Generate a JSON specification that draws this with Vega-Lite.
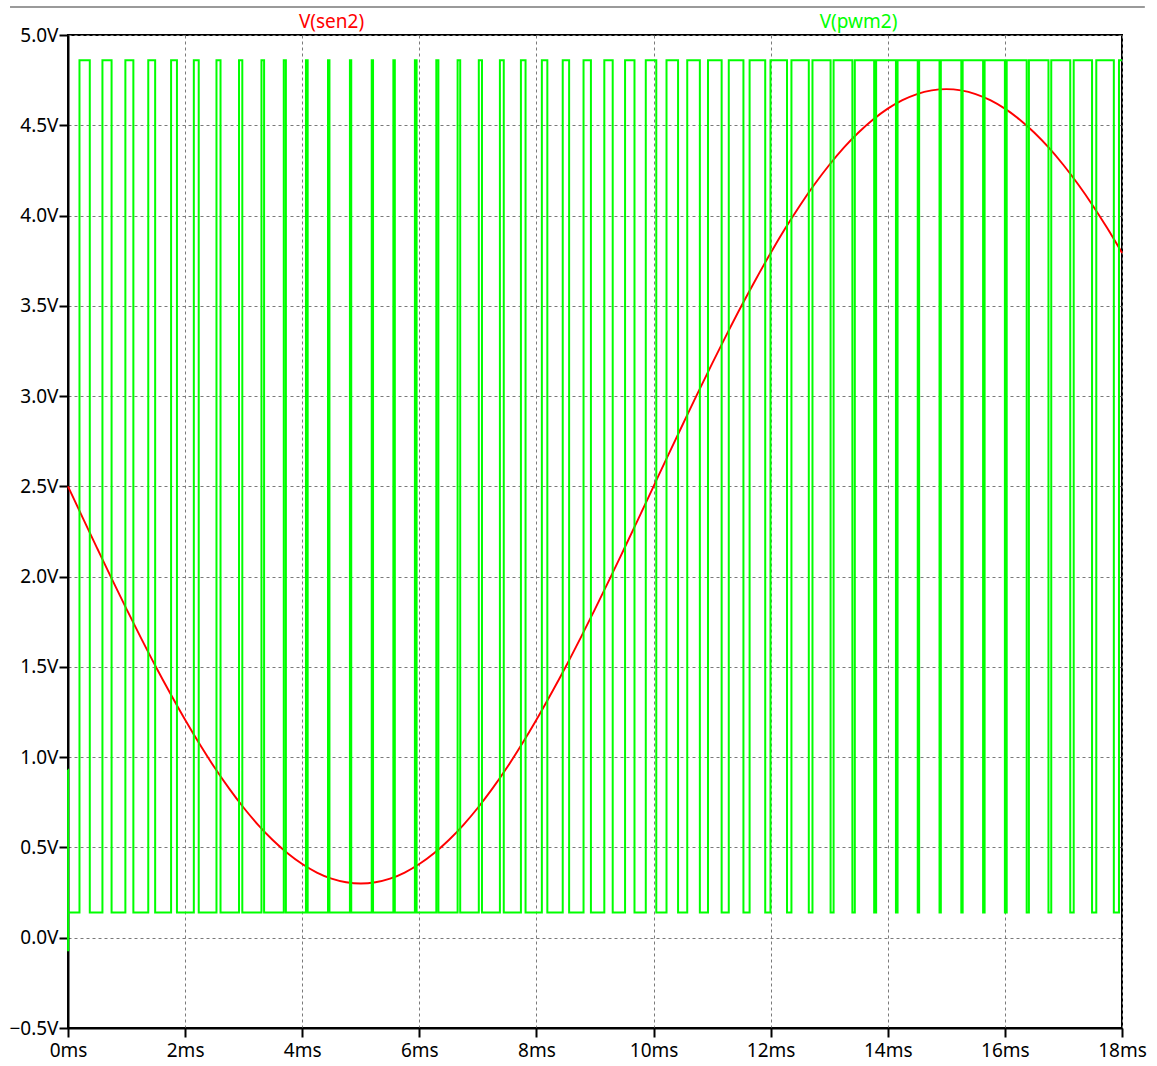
{
  "$schema": "https://vega.github.io/schema/vega-lite/v6.json",
  "width": 1054,
  "height": 993,
  "autosize": {"type": "none"},
  "padding": {"left": 68, "top": 35, "right": 35, "bottom": 38},
  "background": "white",
  "config": {
    "view": {"stroke": "black", "strokeWidth": 2},
    "axis": {
      "domainColor": "black",
      "domainWidth": 2,
      "tickColor": "black",
      "tickWidth": 2,
      "tickSize": 9,
      "labelColor": "black",
      "labelFont": "Noto Sans",
      "labelFontSize": 19,
      "labelPadding": 1,
      "labelFlush": false,
      "labelOverlap": false,
      "grid": true,
      "gridColor": "#7a7a7a",
      "gridDash": [3, 3],
      "gridWidth": 1,
      "title": null
    }
  },
  "datasets": {
    "sen2": [
      {"t": 0, "v": 2.5}, {"t": 0.25, "v": 2.327}, {"t": 0.5, "v": 2.156}, {"t": 0.75, "v": 1.986},
      {"t": 1.0, "v": 1.82}, {"t": 1.25, "v": 1.658}, {"t": 1.5, "v": 1.501}, {"t": 1.75, "v": 1.351},
      {"t": 2.0, "v": 1.207}, {"t": 2.25, "v": 1.071}, {"t": 2.5, "v": 0.944}, {"t": 2.75, "v": 0.827},
      {"t": 3.0, "v": 0.72}, {"t": 3.25, "v": 0.624}, {"t": 3.5, "v": 0.54}, {"t": 3.75, "v": 0.468},
      {"t": 4.0, "v": 0.408}, {"t": 4.25, "v": 0.361}, {"t": 4.5, "v": 0.327}, {"t": 4.75, "v": 0.307},
      {"t": 5.0, "v": 0.3}, {"t": 5.25, "v": 0.307}, {"t": 5.5, "v": 0.327}, {"t": 5.75, "v": 0.361},
      {"t": 6.0, "v": 0.408}, {"t": 6.25, "v": 0.468}, {"t": 6.5, "v": 0.54}, {"t": 6.75, "v": 0.624},
      {"t": 7.0, "v": 0.72}, {"t": 7.25, "v": 0.827}, {"t": 7.5, "v": 0.944}, {"t": 7.75, "v": 1.071},
      {"t": 8.0, "v": 1.207}, {"t": 8.25, "v": 1.351}, {"t": 8.5, "v": 1.501}, {"t": 8.75, "v": 1.658},
      {"t": 9.0, "v": 1.82}, {"t": 9.25, "v": 1.986}, {"t": 9.5, "v": 2.156}, {"t": 9.75, "v": 2.327},
      {"t": 10.0, "v": 2.5}, {"t": 10.25, "v": 2.673}, {"t": 10.5, "v": 2.844}, {"t": 10.75, "v": 3.014},
      {"t": 11.0, "v": 3.18}, {"t": 11.25, "v": 3.342}, {"t": 11.5, "v": 3.499}, {"t": 11.75, "v": 3.649},
      {"t": 12.0, "v": 3.793}, {"t": 12.25, "v": 3.929}, {"t": 12.5, "v": 4.056}, {"t": 12.75, "v": 4.173},
      {"t": 13.0, "v": 4.28}, {"t": 13.25, "v": 4.376}, {"t": 13.5, "v": 4.46}, {"t": 13.75, "v": 4.532},
      {"t": 14.0, "v": 4.592}, {"t": 14.25, "v": 4.639}, {"t": 14.5, "v": 4.673}, {"t": 14.75, "v": 4.693},
      {"t": 15.0, "v": 4.7}, {"t": 15.25, "v": 4.693}, {"t": 15.5, "v": 4.673}, {"t": 15.75, "v": 4.639},
      {"t": 16.0, "v": 4.592}, {"t": 16.25, "v": 4.532}, {"t": 16.5, "v": 4.46}, {"t": 16.75, "v": 4.376},
      {"t": 17.0, "v": 4.28}, {"t": 17.25, "v": 4.173}, {"t": 17.5, "v": 4.056}, {"t": 17.75, "v": 3.929},
      {"t": 18.0, "v": 3.793}
    ],
    "pwm2": [
      {"t": 0, "v": 0.93}, {"t": 0.002, "v": -0.07}, {"t": 0.004, "v": 0.14},
      {"t": 0.1961, "v": 4.86},
      {"t": 0.3721, "v": 0.14}, {"t": 0.5881, "v": 4.86},
      {"t": 0.7442, "v": 0.14}, {"t": 0.9798, "v": 4.86},
      {"t": 1.1163, "v": 0.14}, {"t": 1.3707, "v": 4.86},
      {"t": 1.4884, "v": 0.14}, {"t": 1.7605, "v": 4.86},
      {"t": 1.8605, "v": 0.14}, {"t": 2.1488, "v": 4.86},
      {"t": 2.2326, "v": 0.14}, {"t": 2.5357, "v": 4.86},
      {"t": 2.6047, "v": 0.14}, {"t": 2.9207, "v": 4.86},
      {"t": 2.9767, "v": 0.14}, {"t": 3.3039, "v": 4.86},
      {"t": 3.3488, "v": 0.14}, {"t": 3.6848, "v": 4.86},
      {"t": 3.7209, "v": 0.14}, {"t": 4.0637, "v": 4.86},
      {"t": 4.093, "v": 0.14}, {"t": 4.4403, "v": 4.86},
      {"t": 4.4651, "v": 0.14}, {"t": 4.8146, "v": 4.86},
      {"t": 4.8372, "v": 0.14}, {"t": 5.1867, "v": 4.86},
      {"t": 5.2093, "v": 0.14}, {"t": 5.5566, "v": 4.86},
      {"t": 5.5814, "v": 0.14}, {"t": 5.9243, "v": 4.86},
      {"t": 5.9535, "v": 0.14}, {"t": 6.29, "v": 4.86},
      {"t": 6.3256, "v": 0.14}, {"t": 6.6537, "v": 4.86},
      {"t": 6.6977, "v": 0.14}, {"t": 7.0157, "v": 4.86},
      {"t": 7.0698, "v": 0.14}, {"t": 7.376, "v": 4.86},
      {"t": 7.4419, "v": 0.14}, {"t": 7.7348, "v": 4.86},
      {"t": 7.814, "v": 0.14}, {"t": 8.0924, "v": 4.86},
      {"t": 8.186, "v": 0.14}, {"t": 8.4488, "v": 4.86},
      {"t": 8.5581, "v": 0.14}, {"t": 8.8043, "v": 4.86},
      {"t": 8.9302, "v": 0.14}, {"t": 9.159, "v": 4.86},
      {"t": 9.3023, "v": 0.14}, {"t": 9.5133, "v": 4.86},
      {"t": 9.6744, "v": 0.14}, {"t": 9.8673, "v": 4.86},
      {"t": 10.0465, "v": 0.14}, {"t": 10.2212, "v": 4.86},
      {"t": 10.4186, "v": 0.14}, {"t": 10.5752, "v": 4.86},
      {"t": 10.7907, "v": 0.14}, {"t": 10.9296, "v": 4.86},
      {"t": 11.1628, "v": 0.14}, {"t": 11.2845, "v": 4.86},
      {"t": 11.5349, "v": 0.14}, {"t": 11.6402, "v": 4.86},
      {"t": 11.907, "v": 0.14}, {"t": 11.9969, "v": 4.86},
      {"t": 12.2791, "v": 0.14}, {"t": 12.3547, "v": 4.86},
      {"t": 12.6512, "v": 0.14}, {"t": 12.7139, "v": 4.86},
      {"t": 13.0233, "v": 0.14}, {"t": 13.0747, "v": 4.86},
      {"t": 13.3953, "v": 0.14}, {"t": 13.437, "v": 4.86},
      {"t": 13.7674, "v": 0.14}, {"t": 13.8013, "v": 4.86},
      {"t": 14.1395, "v": 0.14}, {"t": 14.1674, "v": 4.86},
      {"t": 14.5116, "v": 0.14}, {"t": 14.5357, "v": 4.86},
      {"t": 14.8837, "v": 0.14}, {"t": 14.9061, "v": 4.86},
      {"t": 15.2558, "v": 0.14}, {"t": 15.2788, "v": 4.86},
      {"t": 15.6279, "v": 0.14}, {"t": 15.6537, "v": 4.86},
      {"t": 16.0, "v": 0.14}, {"t": 16.0309, "v": 4.86},
      {"t": 16.3721, "v": 0.14}, {"t": 16.4102, "v": 4.86},
      {"t": 16.7442, "v": 0.14}, {"t": 16.7918, "v": 4.86},
      {"t": 17.1163, "v": 0.14}, {"t": 17.1752, "v": 4.86},
      {"t": 17.4884, "v": 0.14}, {"t": 17.5609, "v": 4.86},
      {"t": 17.8605, "v": 0.14}, {"t": 17.9483, "v": 4.86},
      {"t": 18.0, "v": 4.86}
    ]
  },
  "layer": [
    {
      "data": {"name": "sen2"},
      "mark": {"type": "line", "color": "#ff0000", "strokeWidth": 1.9, "interpolate": "monotone"},
      "encoding": {
        "x": {
          "field": "t",
          "type": "quantitative",
          "scale": {"domain": [0, 18], "nice": false, "zero": false},
          "axis": {
            "values": [0, 2, 4, 6, 8, 10, 12, 14, 16, 18],
            "labelExpr": "datum.value + 'ms'",
            "labelPadding": 4
          }
        },
        "y": {
          "field": "v",
          "type": "quantitative",
          "scale": {"domain": [-0.5, 5.0], "nice": false, "zero": false},
          "axis": {
            "values": [-0.5, 0, 0.5, 1, 1.5, 2, 2.5, 3, 3.5, 4, 4.5, 5],
            "labelExpr": "format(datum.value, '.1f') + 'V'"
          }
        }
      }
    },
    {
      "data": {"name": "pwm2"},
      "mark": {"type": "line", "color": "#00ff00", "strokeWidth": 2, "interpolate": "step-after"},
      "encoding": {
        "x": {"field": "t", "type": "quantitative"},
        "y": {"field": "v", "type": "quantitative"}
      }
    },
    {
      "description": "window separator line above the trace labels",
      "data": {"values": [{}]},
      "mark": {"type": "rule", "color": "#9a9a9a", "strokeWidth": 2, "clip": false},
      "encoding": {
        "x": {"datum": -0.99, "type": "quantitative"},
        "x2": {"datum": 18.39},
        "y": {"datum": 5.155, "type": "quantitative"}
      }
    },
    {
      "data": {"values": [{}]},
      "mark": {"type": "text", "color": "#ff0000", "font": "Noto Sans", "fontSize": 19, "baseline": "middle", "align": "center", "clip": false},
      "encoding": {
        "x": {"datum": 4.5, "type": "quantitative"},
        "y": {"datum": 5.07, "type": "quantitative"},
        "text": {"value": "V(sen2)"}
      }
    },
    {
      "data": {"values": [{}]},
      "mark": {"type": "text", "color": "#00ff00", "font": "Noto Sans", "fontSize": 19, "baseline": "middle", "align": "center", "clip": false},
      "encoding": {
        "x": {"datum": 13.5, "type": "quantitative"},
        "y": {"datum": 5.07, "type": "quantitative"},
        "text": {"value": "V(pwm2)"}
      }
    }
  ]
}
